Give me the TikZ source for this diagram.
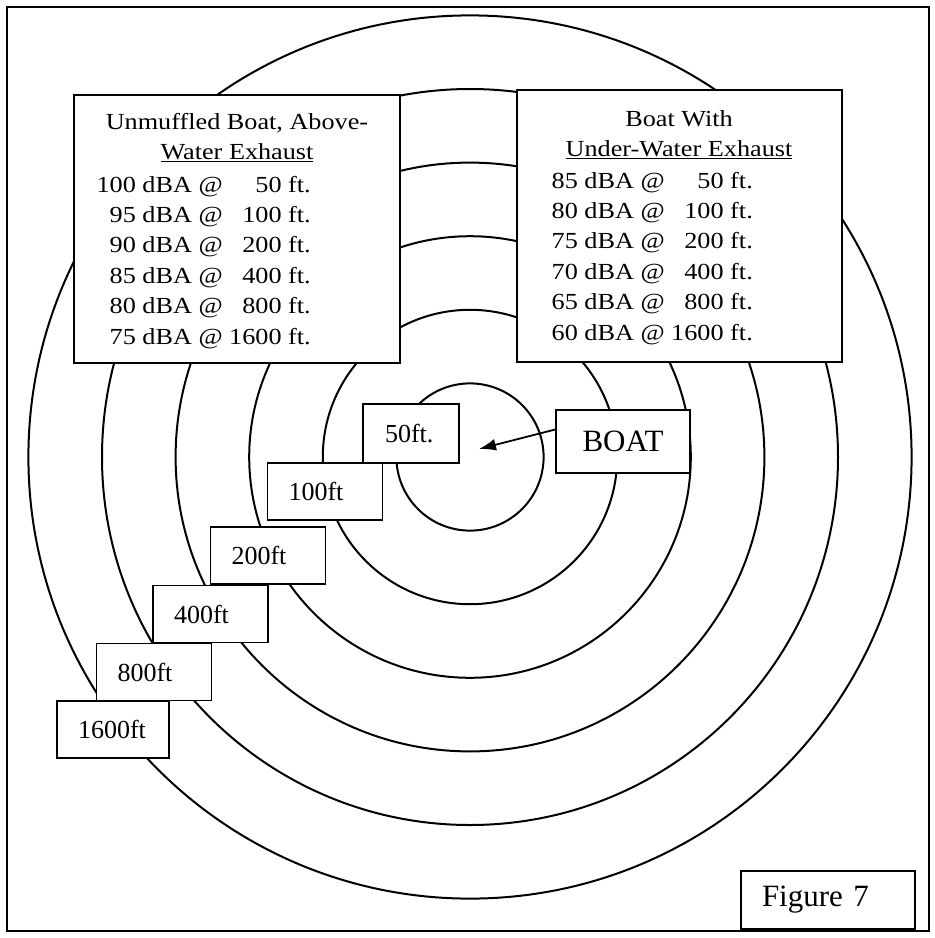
\documentclass[tikz,border=0pt]{standalone}
\usepackage{fontspec}
\setmainfont{Liberation Serif}
\newfontfamily\tablefont[FakeStretch=1.14]{Liberation Serif}
\usetikzlibrary{arrows.meta}

\tikzset{
  ring/.style={line width=2pt},
  tablebox/.style={draw, line width=1.8pt, fill=white, inner sep=0pt},
  tabletext/.style={inner sep=0pt, font=\tablefont\fontsize{23}{30.4}\selectfont},
  distbox/.style={draw, line width=1.8pt, fill=white, minimum height=57pt,
    text width=73pt, align=left, inner xsep=21pt, font=\fontsize{26}{30}\selectfont},
  bigbox/.style={draw, line width=1.8pt, fill=white, font=\fontsize{31}{36}\selectfont},
  pointer/.style={line width=1.8pt, -{Latex[length=17pt, width=12pt]}}
}

\begin{document}
\begin{tikzpicture}[x=1pt, y=-1pt]
\useasboundingbox (0,0) rectangle (935,938);
\draw[line width=1.6pt] (7,7) rectangle (929,931);

% sound rings round the boat
\coordinate (hull) at (470,457);
\foreach \r in {1,...,6}
  \draw[ring] (hull) circle (73.6pt*\r);

% unmuffled boat
\node[tablebox, minimum width=326pt, minimum height=268pt] (loudbox) at (237,229) {};
\node[tabletext, anchor=base] (loudhead) at (237,129)
  {\begin{tabular}[t]{@{}c@{}}Unmuffled Boat, Above-\\ \underline{Water Exhaust}\end{tabular}};
\node[tabletext, anchor=base east] (loudrows) at (311,192)
  {\begin{tabular}[t]{@{}r@{\ }r@{}}
   100 dBA @ & 50 ft.\\
   95 dBA @ & 100 ft.\\
   90 dBA @ & 200 ft.\\
   85 dBA @ & 400 ft.\\
   80 dBA @ & 800 ft.\\
   75 dBA @ & 1600 ft.
   \end{tabular}};

% under-water exhaust
\node[tablebox, minimum width=325pt, minimum height=272pt] (quietbox) at (679.5,226) {};
\node[tabletext, anchor=base] (quiethead) at (679,126)
  {\begin{tabular}[t]{@{}c@{}}Boat With\\ \underline{Under-Water Exhaust}\end{tabular}};
\node[tabletext, anchor=base east] (quietrows) at (753,188)
  {\begin{tabular}[t]{@{}r@{\ }r@{}}
   85 dBA @ & 50 ft.\\
   80 dBA @ & 100 ft.\\
   75 dBA @ & 200 ft.\\
   70 dBA @ & 400 ft.\\
   65 dBA @ & 800 ft.\\
   60 dBA @ & 1600 ft.
   \end{tabular}};

% distance labels
\node[distbox, minimum height=59pt, text width=52pt, inner xsep=22pt] (d50) at (411,433.5) {50ft.};
\node[distbox] (d100) at (325,491.5) {100ft};
\node[distbox] (d200) at (268,555.5) {200ft};
\node[distbox] (d400) at (210.5,614) {400ft};
\node[distbox] (d800) at (154,672) {800ft};
\node[distbox, text width=70pt] (d1600) at (113,729.5) {1600ft};

% boat marker
\node[bigbox, minimum width=134pt, minimum height=63pt] (boatlabel) at (623,441.5) {BOAT};
\coordinate (tip) at (479,449);
\draw[pointer] (boatlabel.170) -- (tip);

\node[bigbox, minimum height=58pt, text width=132pt, align=left, inner xsep=21pt] (figlabel) at (828,900) {Figure 7};
\end{tikzpicture}
\end{document}
